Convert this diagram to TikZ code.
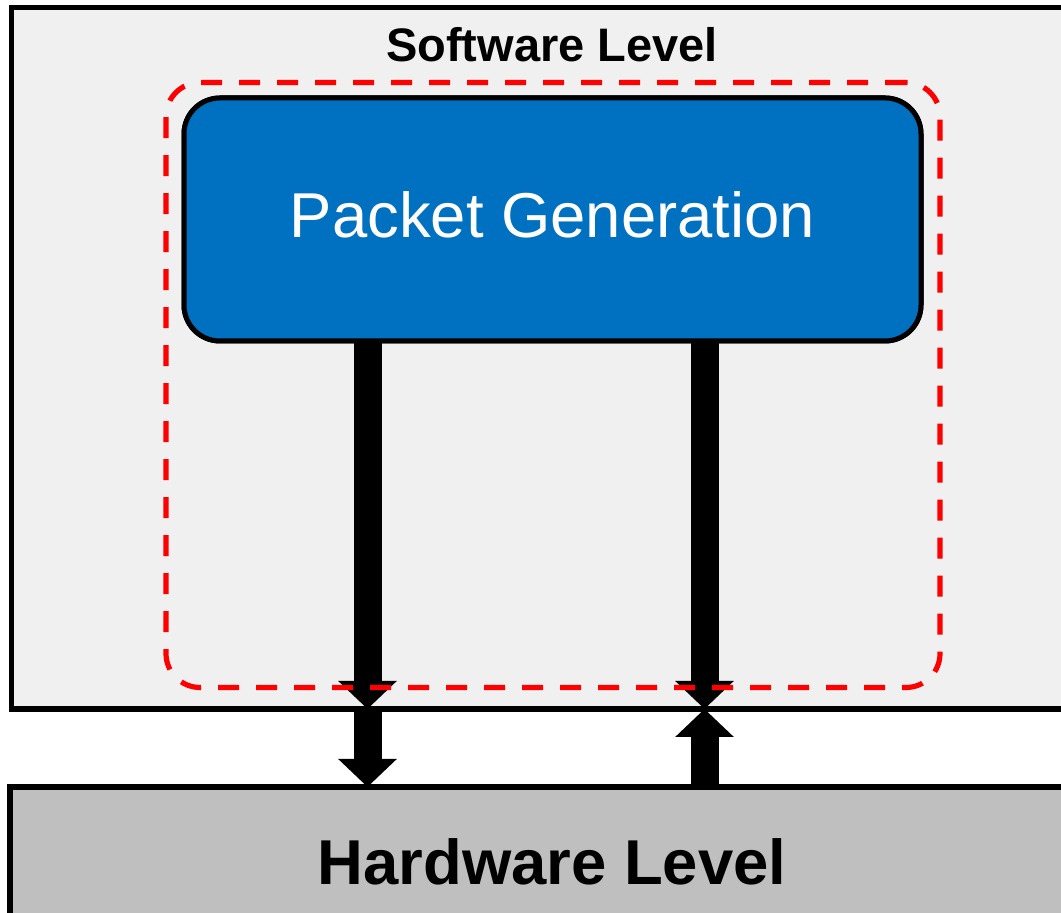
\documentclass[tikz,border=0pt]{standalone}
\usepackage{fontspec}
\setmainfont{Liberation Sans}
\usetikzlibrary{arrows.meta,positioning}
\definecolor{swgray}{HTML}{F0F0F0}
\definecolor{hwgray}{HTML}{BFBFBF}
\definecolor{genblue}{HTML}{0070C0}
\begin{document}
\begin{tikzpicture}[x=0.5pt,y=0.5pt,
  levelbox/.style={draw,line width=2.6pt,inner sep=0pt,outer sep=0pt},
  genbox/.style={draw,line width=2.5pt,fill=genblue,rounded corners=18pt,text=white,
    minimum width=368.5pt,minimum height=121.5pt,inner sep=0pt,outer sep=0pt,
    text depth=5pt,font=\fontsize{31.7}{36}\selectfont},
  fence/.style={draw=red,line width=2.6pt,dash pattern=on 10.5pt off 8.5pt,rounded corners=17pt,
    minimum width=387pt,minimum height=302.5pt,inner sep=0pt,outer sep=0pt},
  fat/.style={line width=14pt,-{Triangle[width=28.5pt,length=14pt]}}]
\useasboundingbox (0,0) rectangle (1061,913);
\clip (0,0) rectangle (1061,913);
% levels
\node[levelbox,fill=swgray,minimum width=531.75pt,minimum height=350.75pt] (sw) at (543.25,554.75) {};
\node[levelbox,fill=hwgray,minimum width=534pt,minimum height=73pt] (hw) at (544,53) {};
\node[font=\bfseries\fontsize{23.5}{28}\selectfont] (swlabel) at (552,868) {Software Level};
\node[font=\bfseries\fontsize{31.7}{36}\selectfont] (hwlabel) at (552,51) {Hardware Level};
% arrow columns
\coordinate (xl) at (367.5,0);
\coordinate (xr) at (704.5,0);
\node[genbox] (gen) at (552.5,693.5) {};
\draw[fat] (gen.south -| xl) -- (sw.south -| xl);
\draw[fat] (gen.south -| xr) -- (sw.south -| xr);
\draw[fat] (sw.south -| xl) -- (hw.north -| xl);
\draw[fat] (hw.north -| xr) -- (sw.south -| xr);
\node[fence] (box) at (553,528) {};
\node[genbox] at (gen) {Packet Generation};
\end{tikzpicture}
\end{document}
